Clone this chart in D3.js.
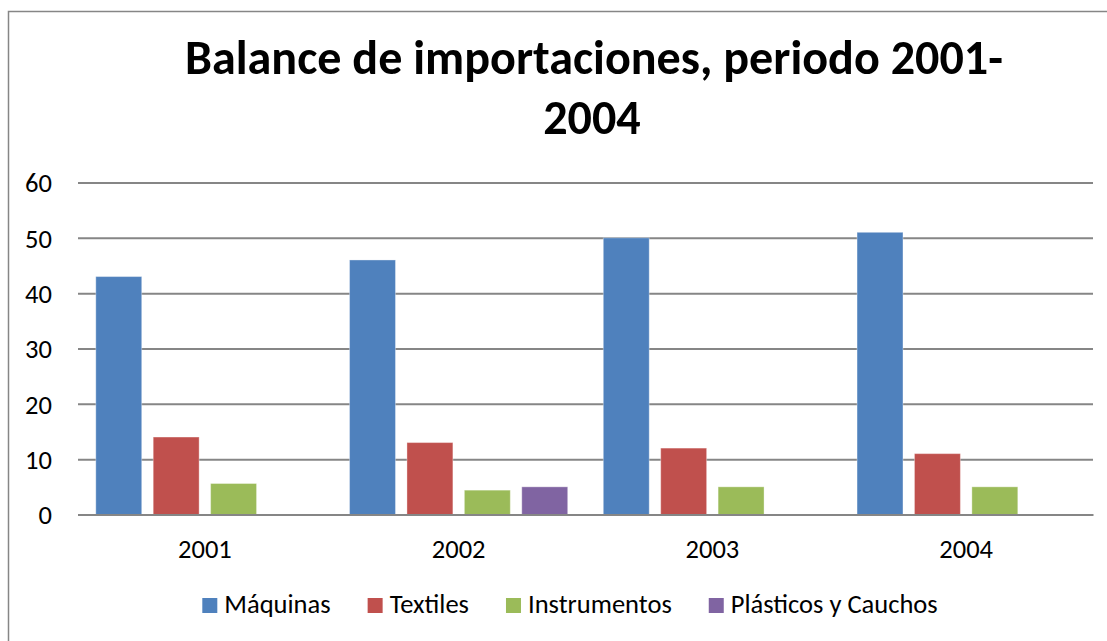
<!DOCTYPE html>
<html>
<head>
<meta charset="utf-8">
<script src="https://cdn.jsdelivr.net/npm/d3@7"></script>
<style>
  html, body { margin: 0; padding: 0; background: #fff; }
  svg { display: block; }
  text { font-family: Carlito, Calibri, Lato, "Open Sans", sans-serif; fill: #000; }
</style>
</head>
<body>
<svg id="chart" width="1107" height="641"></svg>
<script>
// datos del gráfico
const years = ["2001", "2002", "2003", "2004"];
const seriesNames = ["Máquinas", "Textiles", "Instrumentos", "Plásticos y Cauchos"];
const maquinas = [43, 46, 50, 51];
const textiles = [14, 13, 12, 11];
const instrumentos = [5.6, 4.4, 5, 5];
const plasticos = [null, 5, null, null];
const yTicks = [0, 10, 20, 30, 40, 50, 60];
const titleLines = ["Balance de importaciones, periodo 2001-", "2004"];

const colors = ["#4F81BD", "#C0504D", "#9BBB59", "#8064A2"];
const seriesValues = [maquinas, textiles, instrumentos, plasticos];

const svg = d3.select("#chart");
const W = 1107, H = 641;
const plot = { left: 78, right: 1093, top: 182.5, bottom: 514.5 };

// marco exterior
svg.append("rect")
    .attr("x", 8.5).attr("y", 11.5)
    .attr("width", W + 10).attr("height", H + 10)
    .attr("fill", "none")
    .attr("stroke", "#868686")
    .attr("stroke-width", 1.5);

// ajusta el tamaño de letra para que el texto ocupe el ancho dado
function fitFont(sel, base, target) {
    sel.style("font-size", base + "px");
    const w = sel.node().getComputedTextLength();
    const size = base * target / w;
    sel.style("font-size", size + "px");
    return size;
}

// título
const t1 = svg.append("text")
    .attr("x", 594).attr("y", 74)
    .attr("text-anchor", "middle")
    .style("font-weight", "bold")
    .text(titleLines[0]);
const titleSize = fitFont(t1, 46, 818);
svg.append("text")
    .attr("x", 592).attr("y", 134)
    .attr("text-anchor", "middle")
    .style("font-weight", "bold")
    .style("font-size", titleSize + "px")
    .text(titleLines[1]);

// tamaño de letra base a partir del ancho de "Plásticos y Cauchos"
const probe = svg.append("text").text(seriesNames[3]);
const labelSize = Math.min(27, fitFont(probe, 24, 207));
probe.remove();

// escalas
const y = d3.scaleLinear().domain([0, 60]).range([plot.bottom, plot.top]);
const x0 = d3.scaleBand().domain(years).range([plot.left, plot.right]).padding(0);
const x1 = d3.scaleBand().domain(seriesNames).range([0, x0.bandwidth()])
    .paddingInner(0.2).paddingOuter(0.31);

// rejilla y eje Y
const yAxis = svg.append("g")
    .attr("transform", `translate(${plot.left},0)`)
    .call(d3.axisLeft(y).tickValues(yTicks)
        .tickSize(-(plot.right - plot.left))
        .tickPadding(26));
yAxis.select(".domain").remove();
yAxis.selectAll(".tick line")
    .attr("stroke", "#868686")
    .attr("stroke-width", 2);
yAxis.selectAll(".tick text")
    .style("font-size", labelSize + "px")
    .attr("x", -26)
    .attr("dy", "0.35em");

// barras
const groups = svg.append("g").selectAll("g")
    .data(years)
    .join("g")
    .attr("transform", d => `translate(${x0(d)},0)`);

groups.selectAll("rect")
    .data((d, i) => seriesNames.map((s, j) => ({ s, j, v: seriesValues[j][i] })).filter(e => e.v != null))
    .join("rect")
    .attr("x", e => x1(e.s))
    .attr("width", x1.bandwidth())
    .attr("y", e => y(e.v))
    .attr("height", e => y(0) - y(e.v))
    .attr("fill", e => colors[e.j])
    .attr("stroke", "#ffffff")
    .attr("stroke-opacity", 0.35)
    .attr("stroke-width", 1);

// eje X
const xAxis = svg.append("g")
    .attr("transform", `translate(0,${plot.bottom})`)
    .call(d3.axisBottom(x0).tickSize(0).tickPadding(24));
xAxis.select(".domain")
    .attr("stroke", "#868686")
    .attr("stroke-width", 2);
xAxis.selectAll(".tick text")
    .style("font-size", labelSize + "px")
    .attr("dy", "0.35em")
    .attr("y", 34);

// leyenda
const legend = svg.append("g");
let lx = 0;
seriesNames.forEach((name, i) => {
    const item = legend.append("g").attr("transform", `translate(${lx},0)`);
    item.append("rect")
        .attr("x", 0).attr("y", -15)
        .attr("width", 15).attr("height", 15)
        .attr("fill", colors[i]);
    const txt = item.append("text")
        .attr("x", 22).attr("y", 0)
        .style("font-size", labelSize + "px")
        .text(name);
    lx += 22 + txt.node().getComputedTextLength() + 37;
});
const legendW = lx - 37;
legend.attr("transform", `translate(${570 - legendW / 2},613)`);
</script>
</body>
</html>
